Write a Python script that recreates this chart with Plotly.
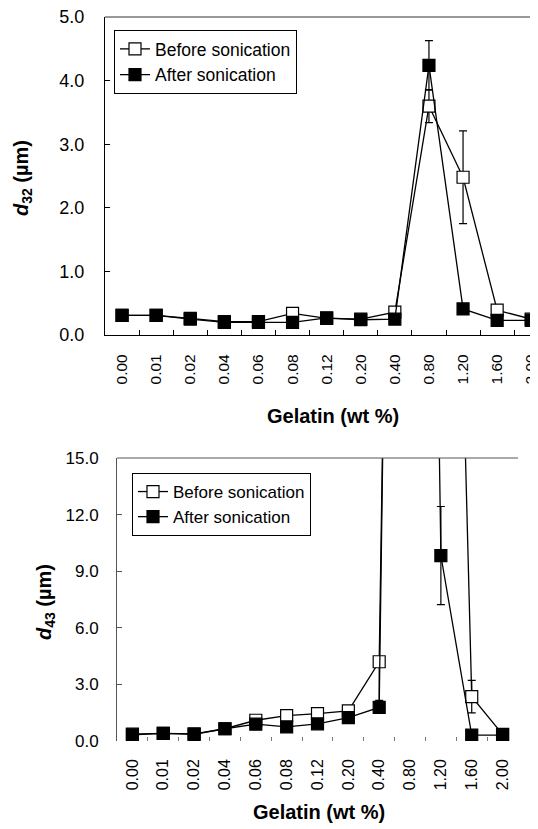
import plotly.graph_objects as go

# ---------------- data ----------------
gelatin = ["0.00", "0.01", "0.02", "0.04", "0.06", "0.08", "0.12",
           "0.20", "0.40", "0.80", "1.20", "1.60", "2.00"]

d32_before = [0.31, 0.31, 0.26, 0.21, 0.21, 0.34, 0.26, 0.25, 0.36, 3.60, 2.48, 0.39, 0.25]
d32_before_err = [0, 0, 0, 0, 0, 0, 0, 0, 0, 0.26, 0.73, 0, 0]
d32_after = [0.31, 0.31, 0.25, 0.20, 0.20, 0.20, 0.27, 0.24, 0.25, 4.24, 0.41, 0.23, 0.23]
d32_after_err = [0, 0, 0, 0, 0, 0, 0, 0, 0, 0.39, 0, 0, 0]

d43_before = [0.36, 0.40, 0.38, 0.65, 1.10, 1.35, 1.45, 1.60, 4.20, 110.0, 65.0, 2.35, 0.35]
d43_before_err_plus = [0, 0, 0, 0, 0, 0, 0, 0, 0, 0, 0, 0.86, 0]
d43_before_err_minus = [0, 0, 0, 0, 0, 0, 0, 0, 2.05, 0, 0, 0.86, 0]
d43_after = [0.33, 0.40, 0.35, 0.65, 0.89, 0.75, 0.91, 1.24, 1.78, 120.0, 9.83, 0.31, 0.31]
d43_after_err = [0, 0, 0, 0, 0, 0, 0, 0, 0, 0.42, 2.6, 0, 0]

series_names = ["Before sonication", "After sonication"]
top_ticks = [0, 1, 2, 3, 4, 5]
bottom_ticks = [0, 3, 6, 9, 12, 15]

# ---------------- figure ----------------
W, H = 538, 829
OFF = 8  # page body margin: figure is drawn 8px right/down on screen
FONT = "Liberation Sans, Arial, sans-serif"


def px(v):
    return v - OFF


fig = go.Figure()


def add_pair(xa, ya, before, bplus, bminus, after, aerr, legend):
    fig.add_trace(go.Scatter(
        x=gelatin, y=before, name=series_names[0], mode="lines+markers",
        xaxis=xa, yaxis=ya, legend=legend,
        line=dict(color="black", width=1.3),
        marker=dict(symbol="square", size=12, color="white",
                    line=dict(color="black", width=1.2)),
        error_y=dict(type="data", array=bplus, arrayminus=bminus,
                     symmetric=False, visible=True,
                     color="black", thickness=1.2, width=4),
    ))
    fig.add_trace(go.Scatter(
        x=gelatin, y=after, name=series_names[1], mode="lines+markers",
        xaxis=xa, yaxis=ya, legend=legend,
        line=dict(color="black", width=1.3),
        marker=dict(symbol="square", size=12, color="black",
                    line=dict(color="black", width=1.2)),
        error_y=dict(type="data", array=aerr, visible=True,
                     color="black", thickness=1.2, width=4),
    ))


add_pair("x", "y", d32_before, d32_before_err, d32_before_err,
         d32_after, d32_after_err, "legend")
add_pair("x2", "y2", d43_before, d43_before_err_plus, d43_before_err_minus,
         d43_after, d43_after_err, "legend2")

# pixel geometry (screen coordinates, converted with px())
top_l, top_t, top_b, top_r = px(105), px(17), px(335), px(538)
cat_w_top = 34.1
bot_l, bot_r, bot_t, bot_b = px(117), px(518), px(458), px(741)

top_range_end = -0.5 + (top_r - top_l) / cat_w_top

fig.update_layout(
    template="none",
    width=W, height=H,
    margin=dict(l=0, r=0, t=0, b=0, autoexpand=False),
    paper_bgcolor="white", plot_bgcolor="white",
    font=dict(family=FONT, color="black"),
    showlegend=True,
    xaxis=dict(domain=[top_l / W, top_r / W], type="category", automargin=False,
               range=[-0.5, top_range_end],
               showline=True, linecolor="black", linewidth=1.2,
               ticks="inside", ticklen=5, tickcolor="black", tickwidth=1,
               tickson="boundaries", tickangle=-90,
               tickfont=dict(size=15.5), ticklabelstandoff=12,
               ticklabeloverflow="allow",
               showgrid=False, zeroline=False, anchor="y"),
    yaxis=dict(domain=[1 - top_b / H, 1 - top_t / H], range=[0, 5],
               automargin=False,
               tickvals=top_ticks, tickformat=".1f",
               showline=True, linecolor="black", linewidth=1.2,
               ticks="inside", ticklen=5, tickcolor="black",
               tickfont=dict(size=18), ticklabelstandoff=16,
               ticklabeloverflow="allow",
               showgrid=False, zeroline=False, anchor="x"),
    xaxis2=dict(domain=[bot_l / W, bot_r / W], type="category",
                automargin=False,
                range=[-0.5, 12.5],
                showline=False,
                ticks="inside", ticklen=4, tickcolor="#777", tickwidth=1,
                tickson="boundaries", tickangle=-90,
                tickfont=dict(size=16), ticklabelstandoff=14,
                ticklabeloverflow="allow",
                showgrid=False, zeroline=False, anchor="y2"),
    yaxis2=dict(domain=[1 - bot_b / H, 1 - bot_t / H], range=[0, 15],
                automargin=False,
                tickvals=bottom_ticks, tickformat=".1f",
                showline=True, linecolor="#555", linewidth=1,
                ticks="inside", ticklen=5, tickcolor="#555",
                tickfont=dict(size=17), ticklabelstandoff=14,
                ticklabeloverflow="allow",
                showgrid=False, zeroline=False, anchor="x2"),
    legend=dict(x=px(114) / W, y=1 - px(30) / H, xanchor="left", yanchor="top",
                bgcolor="white", bordercolor="black", borderwidth=1,
                font=dict(size=17.5), tracegroupgap=0, itemwidth=30),
    legend2=dict(x=px(132) / W, y=1 - px(473) / H, xanchor="left", yanchor="top",
                 bgcolor="white", bordercolor="black", borderwidth=1,
                 font=dict(size=17), tracegroupgap=0, itemwidth=30),
    shapes=[
        dict(type="line", xref="x domain", yref="y domain",
             x0=0, x1=1, y0=1, y1=1, line=dict(color="#333", width=1)),
        dict(type="line", xref="x2 domain", yref="y2 domain",
             x0=0, x1=1, y0=1, y1=1, line=dict(color="#555", width=1)),
    ],
    annotations=[
        dict(text="<b>Gelatin (wt %)</b>", xref="paper", yref="paper",
             x=px(333) / W, y=1 - px(416) / H, showarrow=False,
             font=dict(size=20), xanchor="center", yanchor="middle"),
        dict(text="<b>Gelatin (wt %)</b>", xref="paper", yref="paper",
             x=px(319) / W, y=1 - px(812) / H, showarrow=False,
             font=dict(size=20), xanchor="center", yanchor="middle"),
        dict(text="<b><i>d</i><sub>32</sub> (µm)</b>", xref="paper", yref="paper",
             x=px(22) / W, y=1 - px(178) / H, showarrow=False, textangle=-90,
             font=dict(size=20), xanchor="center", yanchor="middle"),
        dict(text="<b><i>d</i><sub>43</sub> (µm)</b>", xref="paper", yref="paper",
             x=px(45) / W, y=1 - px(602) / H, showarrow=False, textangle=-90,
             font=dict(size=20), xanchor="center", yanchor="middle"),
    ],
)

fig.write_html("out.html")
